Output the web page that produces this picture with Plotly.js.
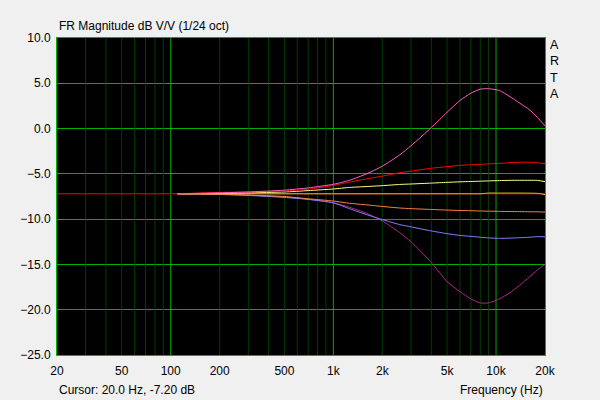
<!DOCTYPE html>
<html>
<head>
<meta charset="utf-8">
<script src="https://cdn.plot.ly/plotly-3.0.1.min.js"></script>
<style>
html,body{margin:0;padding:0;background:#f0f0f0;}
#chart{width:600px;height:400px;}
</style>
</head>
<body>
<div id="chart"></div>
<script>
// Frequencies (Hz) at which curve values were read
var freq = [110, 200, 300, 500, 700, 1000, 1260, 1600, 2000, 2560, 3000, 4000, 5000, 6000, 7000, 8000, 9000, 10500, 12000, 14000, 16000, 18000, 20000];

// Curve values (dB)
var pinkPeak   = [-7.2, -7.1, -7.0, -6.8, -6.55, -6.15, -5.7, -5.0, -4.15, -2.9, -1.9, 0.1, 1.8, 3.1, 3.9, 4.35, 4.4, 4.2, 3.6, 2.8, 2.1, 1.2, 0.3];
var redShelf   = [-7.2, -7.05, -7.0, -6.9, -6.7, -6.27, -5.9, -5.55, -5.25, -4.87, -4.7, -4.38, -4.2, -4.06, -4.0, -3.95, -3.9, -3.84, -3.78, -3.72, -3.72, -3.78, -3.88];
var yellowLite = [-7.2, -7.15, -7.1, -7.0, -6.85, -6.67, -6.5, -6.4, -6.3, -6.17, -6.12, -6.02, -5.94, -5.88, -5.84, -5.81, -5.78, -5.74, -5.72, -5.71, -5.71, -5.72, -5.86];
var olive      = [-7.2, -7.2, -7.2, -7.2, -7.2, -7.2, -7.2, -7.2, -7.2, -7.2, -7.2, -7.2, -7.2, -7.2, -7.2, -7.2, -7.12, -7.12, -7.12, -7.12, -7.13, -7.15, -7.3];
var orangeCut  = [-7.2, -7.25, -7.35, -7.5, -7.75, -8.0, -8.25, -8.42, -8.6, -8.77, -8.84, -8.93, -9.0, -9.04, -9.07, -9.1, -9.12, -9.14, -9.16, -9.17, -9.18, -9.19, -9.22];
var blueShelf  = [-7.2, -7.28, -7.38, -7.6, -7.82, -8.2, -8.85, -9.5, -10.05, -10.6, -10.85, -11.3, -11.6, -11.8, -11.9, -12.0, -12.07, -12.12, -12.1, -12.05, -12.0, -11.93, -11.95];
var magentaDip = [-7.2, -7.25, -7.35, -7.55, -7.8, -8.2, -8.69, -9.35, -10.2, -11.5, -12.5, -14.8, -16.9, -18.0, -18.8, -19.25, -19.25, -18.8, -18.2, -17.3, -16.4, -15.6, -15.0];

// Axis ticks
var xTickVals = [20, 50, 100, 200, 500, 1000, 2000, 5000, 10000, 20000];
var xTickText = ["20", "50", "100", "200", "500", "1k", "2k", "5k", "10k", "20k"];
var xMinorGrid = [30, 40, 50, 60, 70, 80, 90, 200, 300, 400, 500, 600, 700, 800, 900, 2000, 3000, 4000, 5000, 6000, 7000, 8000, 9000];
var xMajorGrid = [100, 1000, 10000];
var cursorFreq = 20.0;
var cursorDb = -7.2;

var yMin = -25, yMax = 10;

function vlines(vals){
  var gx = [], gy = [];
  vals.forEach(function(f){ gx.push(f, f, null); gy.push(yMin, yMax, null); });
  return {x: gx, y: gy};
}

var traces = [];
var minor = vlines(xMinorGrid);
traces.push({x: minor.x, y: minor.y, mode: 'lines', line: {color: '#003f00', width: 1}, hoverinfo: 'skip'});
var major = vlines(xMajorGrid);
traces.push({x: major.x, y: major.y, mode: 'lines', line: {color: '#00a800', width: 1}, hoverinfo: 'skip'});
// cursor line
traces.push({x: [cursorFreq, 20000], y: [cursorDb, cursorDb], mode: 'lines', line: {color: '#ff0000', width: 1}, hoverinfo: 'skip'});

var series = [
  {y: magentaDip, c: '#b8228e'},
  {y: blueShelf,  c: '#8080ff'},
  {y: orangeCut,  c: '#ff8040'},
  {y: olive,      c: '#c8c800'},
  {y: yellowLite, c: '#ffff80'},
  {y: redShelf,   c: '#ff0000'},
  {y: pinkPeak,   c: '#ff5ec4'}
];
series.forEach(function(s){
  traces.push({x: freq, y: s.y, mode: 'lines', line: {color: s.c, width: 1, shape: 'spline', smoothing: 0.6}, hoverinfo: 'skip'});
});

var fnt = {family: 'Liberation Sans, Arial, sans-serif', size: 12, color: '#000000'};
var H = 317, W = 488;
function py(pix){ return (355 - pix) / H; }

var annotations = [
  {text: 'FR Magnitude dB V/V (1/24 oct)', xref: 'paper', yref: 'paper', x: 0, y: py(26), xanchor: 'left', yanchor: 'middle', showarrow: false, font: fnt},
  {text: 'Cursor: 20.0 Hz, -7.20 dB', xref: 'paper', yref: 'paper', x: 0, y: py(390), xanchor: 'left', yanchor: 'middle', showarrow: false, font: fnt},
  {text: 'Frequency (Hz)', xref: 'paper', yref: 'paper', x: 1, y: py(390), xanchor: 'right', yanchor: 'middle', showarrow: false, font: fnt},
  {text: 'A<br>R<br>T<br>A', xref: 'paper', yref: 'paper', x: (548 - 57) / W, y: py(36), xanchor: 'left', yanchor: 'top', align: 'left', showarrow: false, font: {family: fnt.family, size: 12.5, color: '#000000'}}
];

var layout = {
  width: 600, height: 400,
  margin: {l: 57, r: 55, t: 38, b: 45, pad: 0},
  paper_bgcolor: '#f0f0f0',
  plot_bgcolor: '#000000',
  showlegend: false,
  hovermode: false,
  font: fnt,
  xaxis: {
    type: 'log',
    range: [Math.log10(20), Math.log10(20000)],
    tickmode: 'array', tickvals: xTickVals, ticktext: xTickText,
    showgrid: false, zeroline: false,
    ticks: 'outside', ticklen: 5, tickcolor: 'rgba(0,0,0,0)',
    showline: true, mirror: true, linecolor: '#00b400', linewidth: 1,
    tickfont: fnt,
    fixedrange: true
  },
  yaxis: {
    range: [yMin, yMax],
    tickmode: 'linear', tick0: -25, dtick: 5, tickformat: '.1f',
    showgrid: true, gridcolor: '#00b000', gridwidth: 1, zeroline: false,
    ticks: 'outside', ticklen: 3, tickcolor: 'rgba(0,0,0,0)',
    showline: true, mirror: true, linecolor: '#00b400', linewidth: 1,
    tickfont: fnt,
    fixedrange: true
  },
  annotations: annotations
};

Plotly.newPlot('chart', traces, layout, {staticPlot: true, displayModeBar: false});
</script>
</body>
</html>
